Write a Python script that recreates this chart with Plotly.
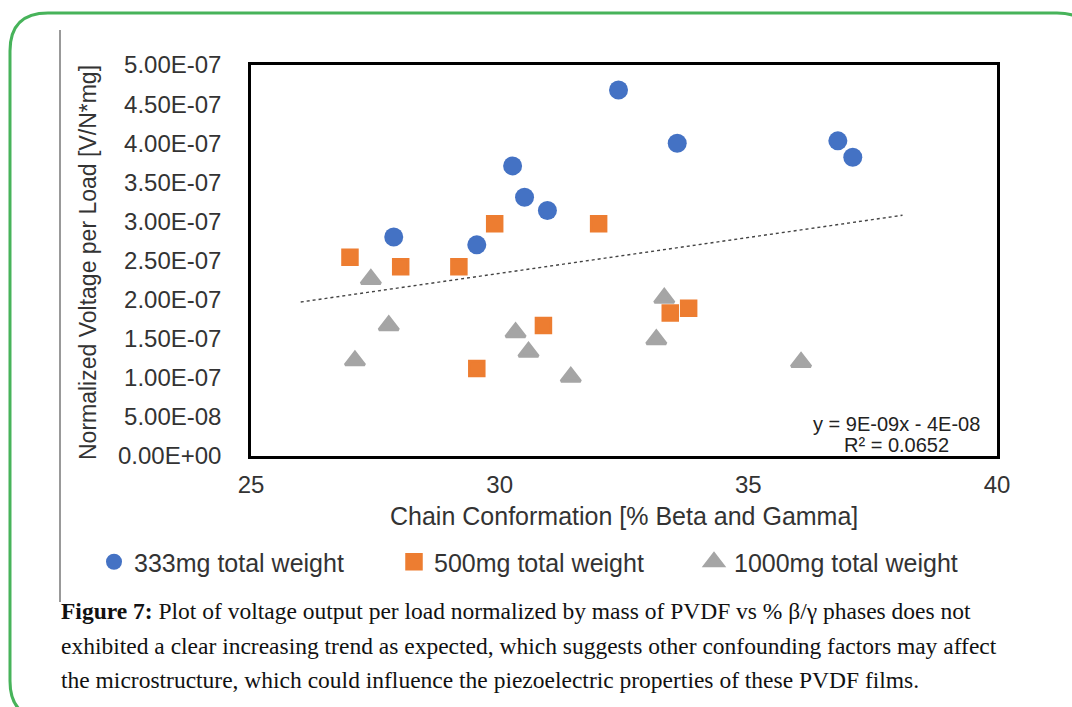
import numpy as np
import plotly.graph_objects as go

# ---------------- data ----------------
series_names = ["333mg total weight", "500mg total weight", "1000mg total weight"]

x_333 = [27.87, 29.54, 30.26, 30.50, 30.96, 32.39, 33.57, 36.80, 37.10]
y_333 = [2.80e-7, 2.70e-7, 3.71e-7, 3.31e-7, 3.14e-7, 4.68e-7, 4.00e-7, 4.03e-7, 3.82e-7]

x_500 = [26.99, 28.01, 29.18, 29.90, 31.99, 30.88, 29.54, 33.43, 33.80]
y_500 = [2.54e-7, 2.42e-7, 2.42e-7, 2.97e-7, 2.97e-7, 1.67e-7, 1.12e-7, 1.83e-7, 1.89e-7]

x_1000 = [27.41, 27.77, 27.09, 30.32, 30.58, 31.43, 33.31, 33.15, 36.06]
y_1000 = [2.26e-7, 1.67e-7, 1.22e-7, 1.58e-7, 1.33e-7, 1.01e-7, 2.02e-7, 1.49e-7, 1.20e-7]

trend_x_range = [26.0, 38.1]
trend_label = ["y = 9E-09x - 4E-08", "R² = 0.0652"]

x_ticks = [25, 30, 35, 40]
y_ticks = [0, 5e-8, 1e-7, 1.5e-7, 2e-7, 2.5e-7, 3e-7, 3.5e-7, 4e-7, 4.5e-7, 5e-7]
y_ticktext = ["0.00E+00", "5.00E-08", "1.00E-07", "1.50E-07", "2.00E-07", "2.50E-07",
              "3.00E-07", "3.50E-07", "4.00E-07", "4.50E-07", "5.00E-07"]

x_title = "Chain Conformation [% Beta and Gamma]"
y_title = "Normalized Voltage per Load [V/N*mg]"
caption_lines = [
    "<b>Figure 7:</b> Plot of voltage output per load normalized by mass of PVDF vs % β/γ phases does not",
    "exhibited a clear increasing trend as expected, which suggests other confounding factors may affect",
    "the microstructure, which could influence the piezoelectric properties of these PVDF films.",
]

colors = ["#4472C4", "#ED7D31", "#A5A5A5"]

# ---------------- geometry helpers (pixels -> paper) ----------------
W, H = 1072, 707
L, R, T, B = 251, 997, 65, 456


def px(x):
    return (x - L) / (R - L)


def py(y):
    return (B - y) / (B - T)


# ---------------- trend line from data ----------------
all_x = np.array(x_333 + x_500 + x_1000)
all_y = np.array(y_333 + y_500 + y_1000)
slope, intercept = np.polyfit(all_x, all_y, 1)
tx = np.array(trend_x_range)
ty = slope * tx + intercept

fig = go.Figure()
fig.add_trace(go.Scatter(x=tx, y=ty, mode="lines", showlegend=False,
                         line=dict(color="#444444", width=1.4, dash="dot"),
                         hoverinfo="skip"))
fig.add_trace(go.Scatter(x=x_333, y=y_333, mode="markers", name=series_names[0],
                         marker=dict(symbol="circle", size=19, color=colors[0])))
fig.add_trace(go.Scatter(x=x_500, y=y_500, mode="markers", name=series_names[1],
                         marker=dict(symbol="square", size=15, color=colors[1],
                                     line=dict(color=colors[1], width=2.5))))
fig.add_trace(go.Scatter(x=x_1000, y=y_1000, mode="markers", name=series_names[2],
                         marker=dict(symbol="triangle-up", size=17, color=colors[2],
                                     line=dict(color=colors[2], width=3))))

font_sans = "Liberation Sans, Arial, sans-serif"
font_serif = "Liberation Serif, Times New Roman, serif"
txt_col = "#333333"

fig.update_xaxes(range=[25, 40], tickvals=x_ticks, ticktext=[str(v) for v in x_ticks],
                 showgrid=False, zeroline=False, showline=True, mirror=True,
                 linecolor="black", linewidth=2.5, ticks="",
                 tickfont=dict(family=font_sans, size=24, color=txt_col),
                 ticklabelstandoff=5)
fig.update_yaxes(range=[0, 5e-7], tickvals=y_ticks, ticktext=y_ticktext,
                 showgrid=False, zeroline=False, showline=True, mirror=True,
                 linecolor="black", linewidth=2.5, ticks="",
                 tickfont=dict(family=font_sans, size=24, color=txt_col),
                 ticklabelstandoff=22)

annotations = [
    dict(text=y_title, x=px(88), y=py(263), xref="paper", yref="paper",
         textangle=-90, showarrow=False, xanchor="center", yanchor="middle",
         font=dict(family=font_sans, size=23, color=txt_col)),
    dict(text=x_title, x=px(624), y=py(516), xref="paper", yref="paper",
         showarrow=False, xanchor="center", yanchor="middle",
         font=dict(family=font_sans, size=25, color=txt_col)),
    dict(text=trend_label[0], x=px(896), y=py(424), xref="paper", yref="paper",
         showarrow=False, xanchor="center", yanchor="middle",
         font=dict(family=font_sans, size=20, color="#222222")),
    dict(text=trend_label[1], x=px(896), y=py(445), xref="paper", yref="paper",
         showarrow=False, xanchor="center", yanchor="middle",
         font=dict(family=font_sans, size=20, color="#222222")),
]
caption_y = [611, 646, 680]
for line, yy in zip(caption_lines, caption_y):
    annotations.append(dict(text=line, x=px(59), y=py(yy), xref="paper", yref="paper",
                            showarrow=False, xanchor="left", yanchor="middle",
                            font=dict(family=font_serif, size=23.5, color="#111111")))


def path_px(points):
    cmds = []
    for c, coords in points:
        s = " ".join(f"{px(a):.5f},{py(b):.5f}" for a, b in coords)
        cmds.append(f"{c} {s}")
    return " ".join(cmds)


border = path_px([
    ("M", [(10, 681)]),
    ("L", [(10, 51)]),
    ("Q", [(10, 13), (48, 13)]),
    ("L", [(1057, 13)]),
    ("Q", [(1095, 13), (1095, 51)]),
    ("L", [(1095, 681)]),
    ("Q", [(1095, 719), (1057, 719)]),
    ("L", [(48, 719)]),
    ("Q", [(10, 719), (10, 681)]),
])

shapes = [
    dict(type="path", path=border, xref="paper", yref="paper",
         line=dict(color="#47B35A", width=3)),
    dict(type="line", x0=px(60), x1=px(60), y0=py(30), y1=py(602),
         xref="paper", yref="paper", line=dict(color="#777777", width=1.5)),
]

fig.update_layout(
    width=W, height=H,
    margin=dict(l=L, r=W - R, t=T, b=H - B, autoexpand=False),
    paper_bgcolor="white", plot_bgcolor="white",
    showlegend=True,
    legend=dict(orientation="h", x=px(94), y=py(562), xref="paper", yref="paper",
                xanchor="left", yanchor="middle",
                entrywidth=255, entrywidthmode="pixels",
                font=dict(family=font_sans, size=25, color=txt_col),
                bgcolor="rgba(0,0,0,0)", itemsizing="trace"),
    annotations=annotations,
    shapes=shapes,
)

fig.write_html("out.html")
